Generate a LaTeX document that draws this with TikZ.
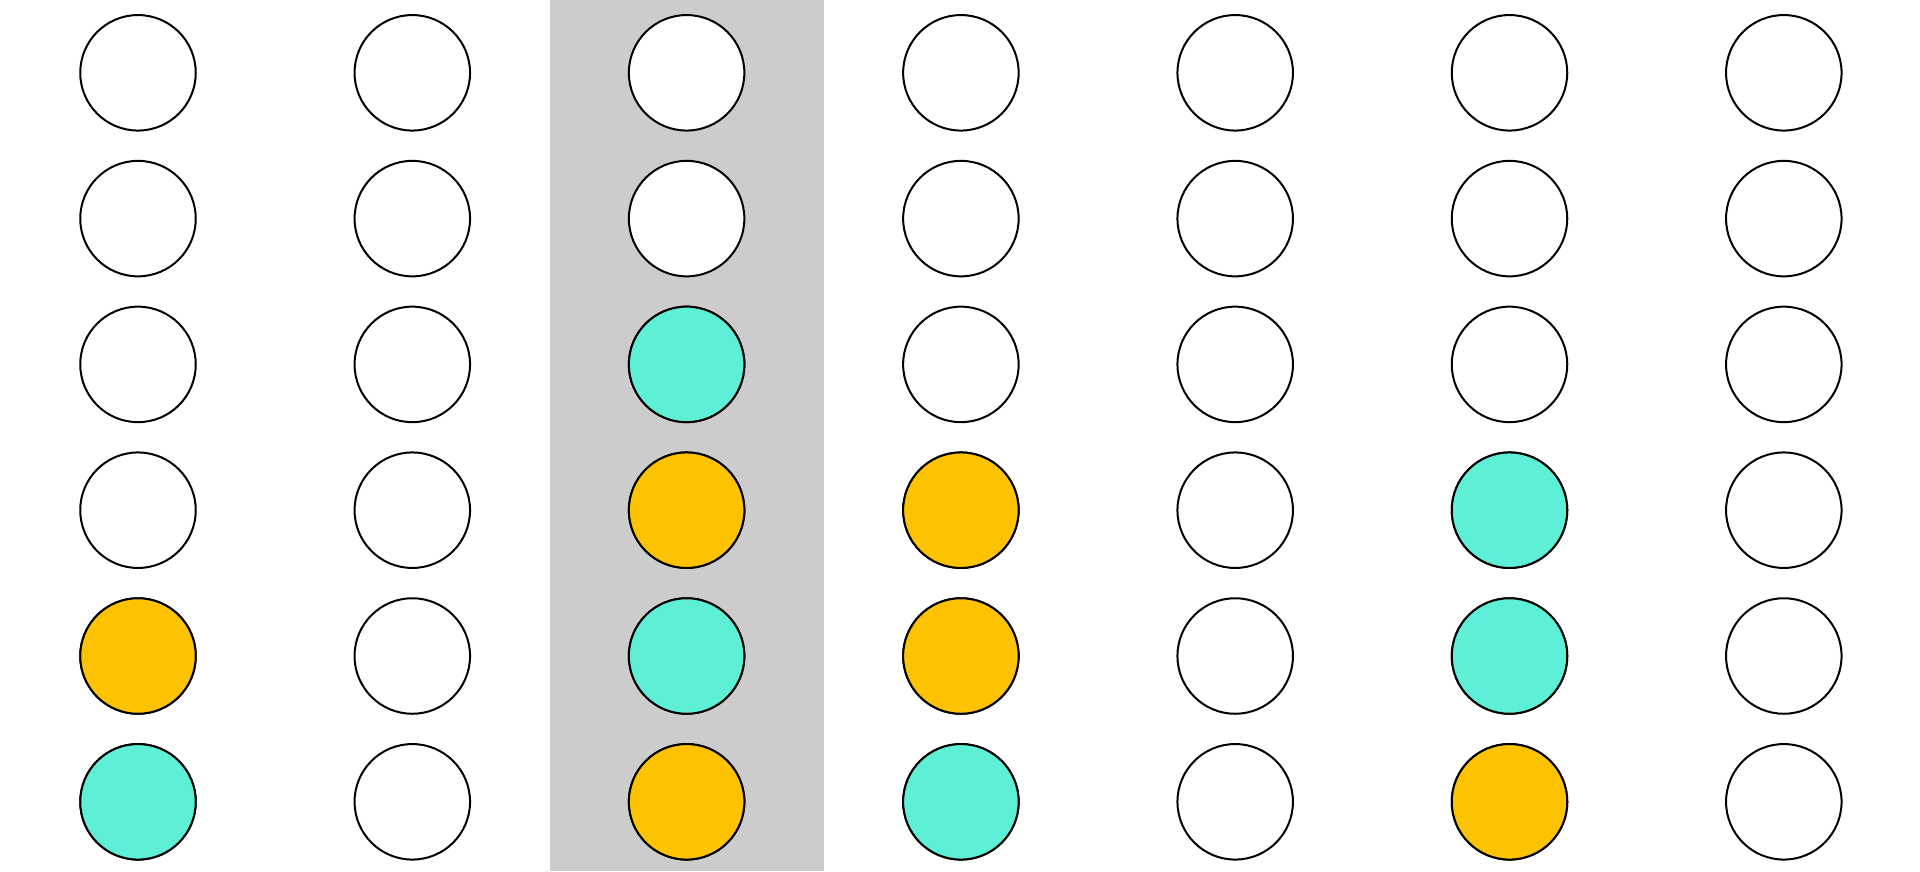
\documentclass[tikz,border=0pt]{standalone}
\begin{document}
\begin{tikzpicture}[x=1pt,y=-1pt,
  disc/.style={circle,draw=black,line width=2pt,minimum size=115.5pt,inner sep=0pt,fill=white},
  teal/.style={fill=tealc},
  gold/.style={fill=goldc}]
\definecolor{tealc}{HTML}{5EF0D6}
\definecolor{goldc}{HTML}{FDC300}
\definecolor{bandc}{HTML}{CCCCCC}
\fill[white] (0,0) rectangle (1920,871);
\useasboundingbox (0,0) rectangle (1920,871);
\fill[bandc] (550,0) rectangle (823.5,871);
\foreach \c in {0,...,6}{
  \foreach \r in {0,...,5}{
    \node[disc] (c-\c-\r) at ({138+274.3*\c},{72.8+145.8*\r}) {};
  }
}
% coloured discs
\foreach \c/\r in {0/4,2/3,2/5,3/3,3/4,5/5}{
  \node[disc,gold] at (c-\c-\r) {};
}
\foreach \c/\r in {0/5,2/2,2/4,3/5,5/3,5/4}{
  \node[disc,teal] at (c-\c-\r) {};
}
\end{tikzpicture}
\end{document}
